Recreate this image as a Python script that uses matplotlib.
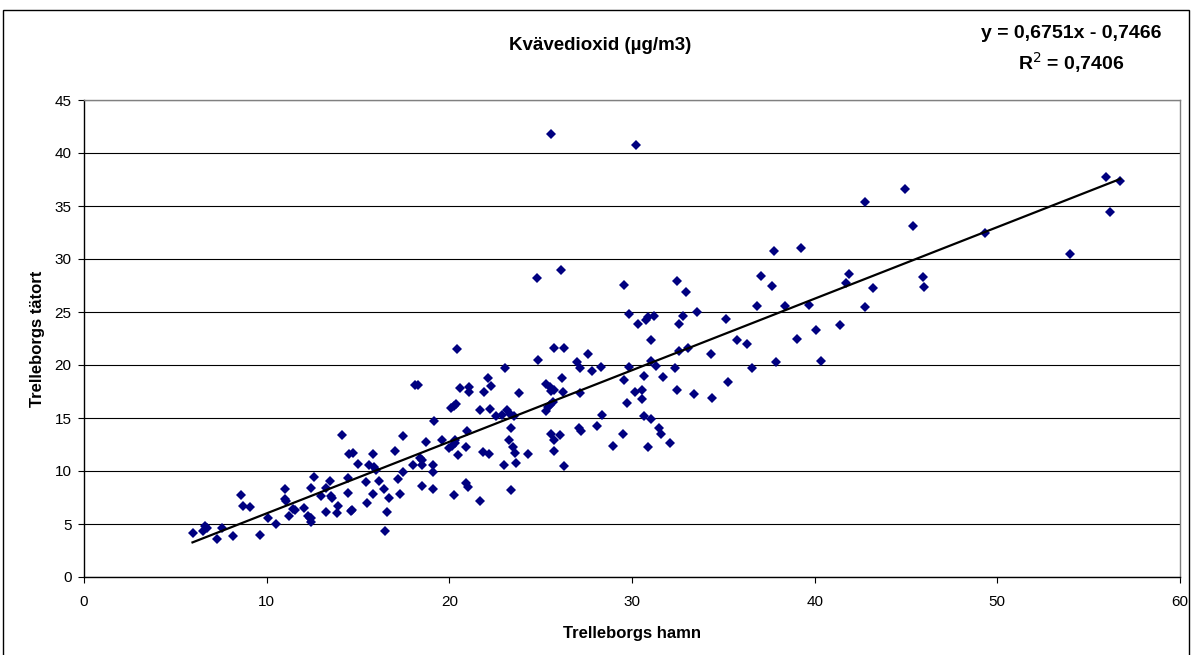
import matplotlib
matplotlib.use("Agg")
import matplotlib.pyplot as plt
from matplotlib.patches import Rectangle
import numpy as np

plt.rcParams['font.family'] = ['Liberation Sans', 'DejaVu Sans']

title = "Kvävedioxid (µg/m3)"
xlabel = "Trelleborgs hamn"
ylabel = "Trelleborgs tätort"
eq_text = "y = 0,6751x - 0,7466"
r2_text = "R$^2$ = 0,7406"
slope = 0.6751
intercept = -0.7466

hamn = [
    5.94, 6.52, 6.63, 6.74, 7.27, 7.54, 8.18, 8.62, 8.68, 9.10, 9.66,
    10.08, 10.52, 11.0, 11.0, 11.05, 11.21, 11.45, 11.55, 12.04, 12.24, 12.35, 12.45, 12.42,
    12.57, 12.4, 12.99, 13.24, 13.24, 13.46, 13.5, 13.55, 13.88, 13.85,
    14.15, 14.43, 14.5, 14.7, 14.44, 14.6, 14.65, 15.0, 15.43, 15.5, 15.6, 15.8, 15.8, 15.9,
    16.0, 16.13, 16.4, 16.48, 16.57, 16.7,
    17.04, 17.46, 17.19, 17.46, 17.3, 18.0, 18.1, 18.3, 18.4, 18.5, 18.52, 18.52, 18.72,
    19.08, 19.08, 19.08, 19.16, 19.58, 19.96,
    20.1, 20.25, 20.35, 20.15, 20.3, 20.3, 20.42, 20.49, 20.27, 20.57, 20.9, 21.0, 20.99,
    20.9, 21.06, 21.1, 21.68, 21.68, 21.83, 21.88,
    22.1, 22.15, 22.25, 22.3, 22.56, 22.87, 23.0, 23.07, 23.16, 23.25, 23.38, 23.38, 23.3,
    23.56, 23.5, 23.6, 23.65, 23.84, 24.3,
    24.78, 24.84, 25.3, 25.4, 25.5, 25.65, 25.3, 25.5, 25.57, 25.75, 26.2, 25.57, 25.75,
    26.26, 25.55, 26.06, 25.75, 25.75, 26.14, 26.17, 26.3,
    26.97, 27.16, 27.18, 27.1, 27.2, 27.6, 27.8, 28.1, 28.3, 28.37, 28.95,
    29.55, 29.85, 29.86, 29.55, 29.5, 29.75, 30.2, 30.34, 30.15, 30.56, 30.56, 30.63, 30.66,
    30.74, 30.9, 30.9, 31.05, 31.05, 31.05, 31.2,
    31.3, 31.47, 31.6, 31.67, 32.1, 32.38, 32.45, 32.45, 32.6, 32.6, 32.8, 32.93, 33.06,
    33.42, 33.57,
    34.34, 34.4, 35.12, 35.27, 35.76, 36.3, 36.58, 36.86, 37.08, 37.64, 37.8, 37.86, 38.4,
    39.05, 39.27, 39.7,
    40.09, 40.33, 41.37, 41.7, 41.9, 42.78, 42.78, 43.2, 44.97, 45.39, 45.95, 46.0, 49.3,
    53.97, 55.93, 56.15, 56.73,
]

tatort = [
    4.18, 4.37, 4.84, 4.65, 3.55, 4.59, 3.84, 7.71, 6.73, 6.60, 3.96,
    5.53, 5.03, 8.3, 7.36, 7.2, 5.75, 6.38, 6.3, 6.48, 5.75, 5.6, 5.55, 5.2,
    9.4, 8.43, 7.67, 6.1, 8.36, 9.03, 7.6, 7.45, 6.73, 6.06,
    13.4, 9.31, 11.6, 11.7, 7.9, 6.2, 6.35, 10.7, 8.93, 6.95, 10.6, 11.6, 7.83, 10.35,
    10.1, 9.06, 8.3, 4.34, 6.13, 7.45,
    11.9, 13.3, 9.25, 9.88, 7.83, 10.6, 18.1, 18.1, 11.2, 11.0, 10.6, 8.58, 12.7,
    10.6, 9.88, 8.3, 14.7, 12.9, 12.2,
    15.9, 16.1, 16.3, 12.4, 12.6, 12.9, 21.48, 11.48, 7.7, 17.86, 8.9, 8.5, 13.8,
    12.3, 17.96, 17.5, 7.14, 15.8, 11.8, 17.5,
    18.8, 11.6, 15.85, 18.0, 15.2, 15.3, 10.6, 19.7, 15.8, 12.9, 14.1, 8.18, 15.4,
    15.2, 12.3, 11.7, 10.8, 17.4, 11.6,
    28.2, 20.47, 15.7, 16.0, 16.2, 16.5, 18.2, 17.96, 17.55, 17.64, 17.5, 41.8, 21.6,
    21.6, 13.5, 13.4, 12.9, 11.9, 29.0, 18.8, 10.5,
    20.3, 19.7, 17.4, 14.1, 13.8, 21.0, 19.43, 14.25, 19.84, 15.3, 12.4,
    27.55, 24.8, 19.84, 18.58, 13.5, 16.4, 40.8, 23.9, 17.5, 17.6, 16.8, 18.96, 15.2,
    24.2, 24.5, 12.3, 22.36, 20.4, 14.9, 24.6,
    19.9, 14.1, 13.5, 18.84, 12.67, 19.69, 27.9, 17.6, 23.9, 21.35, 24.65, 26.9, 21.6,
    17.26, 25.0,
    21.0, 16.9, 24.37, 18.43, 22.36, 21.95, 19.69, 25.6, 28.4, 27.5, 30.8, 20.26, 25.6,
    22.45, 31.0, 25.7,
    23.3, 20.4, 23.77, 27.7, 28.6, 35.38, 25.47, 27.3, 36.6, 33.1, 28.3, 27.4, 32.5,
    30.5, 37.7, 34.4, 37.33,
]

x_ticks = [0, 10, 20, 30, 40, 50, 60]
y_ticks = [0, 5, 10, 15, 20, 25, 30, 35, 40, 45]

W, H = 1192, 655
fig = plt.figure(figsize=(W / 100, H / 100), dpi=100)
fig.patch.set_facecolor('white')

# outer frame
fig.add_artist(Rectangle((3 / W, -0.02), (1189 - 3) / W, 1 - 10 / H + 0.02,
                         transform=fig.transFigure, fill=False,
                         edgecolor='black', linewidth=1.0))

ax = fig.add_axes([84 / W, 1 - 577 / H, (1180 - 84) / W, (577 - 100) / H])
ax.set_xlim(0, 60)
ax.set_ylim(0, 45)
ax.set_xticks(x_ticks)
ax.set_yticks(y_ticks)
ax.tick_params(axis='both', direction='out', length=4, width=0.8, labelsize=11,
               colors='black')
ax.tick_params(axis='x', pad=9)
ax.tick_params(axis='y', pad=5)

for s in ['left', 'bottom']:
    ax.spines[s].set_color('black')
    ax.spines[s].set_linewidth(1.0)
for s in ['right', 'top']:
    ax.spines[s].set_color('#808080')
    ax.spines[s].set_linewidth(1.0)

ax.yaxis.grid(True, color='black', linewidth=0.8)
ax.set_axisbelow(True)

ax.plot(hamn, tatort, linestyle='none', marker='D', markersize=4.6,
        color='#000080', markeredgewidth=0, zorder=3)

xs = np.array([min(hamn), max(hamn)])
ax.plot(xs, slope * xs + intercept, color='black', linewidth=1.6, zorder=4)

ax.set_xlabel(xlabel, fontsize=12, fontweight='bold', labelpad=12)
ax.set_ylabel(ylabel, fontsize=12, fontweight='bold', labelpad=7)

fig.text(600 / W, 1 - 45 / H, title, ha='center', va='center',
         fontsize=13.5, fontweight='bold')
fig.text(1071 / W, 1 - 33 / H, eq_text, ha='center', va='center',
         fontsize=14, fontweight='bold')
fig.text(1071 / W, 1 - 63 / H, r2_text, ha='center', va='center',
         fontsize=14, fontweight='bold')

fig.savefig('out.png', dpi=100, facecolor='white')
